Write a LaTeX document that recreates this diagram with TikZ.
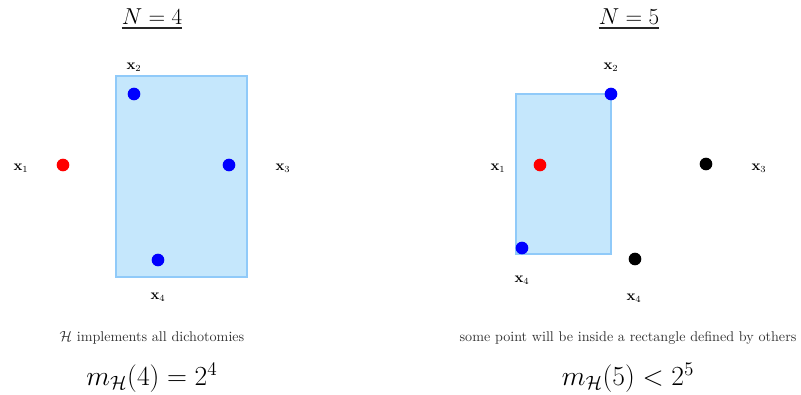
\documentclass[tikz,border=0pt]{standalone}
\usepackage{amsmath,amssymb}
\usepackage{xcolor}
\usetikzlibrary{positioning}
\definecolor{boxfill}{RGB}{197,231,252}
\definecolor{boxline}{RGB}{144,202,249}
\definecolor{captxt}{RGB}{50,50,50}
\newcommand{\xb}[1]{$\mathbf{x}_{#1}$}

\begin{document}
\begin{tikzpicture}[x=0.75pt,y=-0.75pt,
  dot/.style={circle,inner sep=0pt,minimum size=9.5pt},
  lbl/.style={inner sep=1pt,font=\fontsize{10.6}{12}\selectfont},
  hbox/.style={draw=boxline,fill=boxfill,line width=0.8pt},
  ttl/.style={inner sep=0pt,font=\fontsize{16}{19}\selectfont},
  uline/.style={line width=1.4pt,black!85},
  captext/.style={text=captxt,font=\fontsize{10.6}{12}\selectfont},
  mh/.style={font=\fontsize{19.5}{23}\selectfont}]
\useasboundingbox (0,0) rectangle (801,395);
% N = 4
\node[ttl] (ttlA) at (152,17) {$N=4$};
\draw[uline] ([yshift=-2.4pt]ttlA.base west) -- ([yshift=-2.4pt]ttlA.base east);
\draw[hbox] (116,76) rectangle (247,277);
\node[dot,fill=red]  (a1) at (63,165) {};
\node[dot,fill=blue] (a2) at (134,94) {};
\node[dot,fill=blue] (a3) at (229,165) {};
\node[dot,fill=blue] (a4) at (158,260) {};
\node[lbl] (la1) at (21,168) {\xb{1}};
\node[lbl] (la2) at (134,67) {\xb{2}};
\node[lbl] (la3) at (283,168) {\xb{3}};
\node[lbl] (la4) at (158,297) {\xb{4}};
\node[captext] (capA) at (152,338) {$\mathcal{H}$ implements all dichotomies};
\node[mh] (mA) at (152,378) {$m_{\mathcal{H}}(4)=2^4$};
% N = 5
\node[ttl] (ttlB) at (629,17) {$N=5$};
\draw[uline] ([yshift=-2.4pt]ttlB.base west) -- ([yshift=-2.4pt]ttlB.base east);
\draw[hbox] (516,94) rectangle (611,254);
\node[dot,fill=red]   (b1) at (540,165) {};
\node[dot,fill=blue]  (b2) at (611,94) {};
\node[dot,fill=black] (b3) at (706,164) {};
\node[dot,fill=blue]  (b4) at (522,248) {};
\node[dot,fill=black] (b5) at (635,259) {};
\node[lbl] (lb1) at (498,168) {\xb{1}};
\node[lbl] (lb2) at (611,67) {\xb{2}};
\node[lbl] (lb3) at (759,168) {\xb{3}};
\node[lbl] (lb4) at (522,280) {\xb{4}};
\node[lbl] (lb5) at (634,298) {\xb{4}};
\node[captext] (capB) at (628,338) {some point will be inside a rectangle defined by others};
\node[mh] (mB) at (628,378) {$m_{\mathcal{H}}(5)<2^5$};
\end{tikzpicture}
\end{document}
